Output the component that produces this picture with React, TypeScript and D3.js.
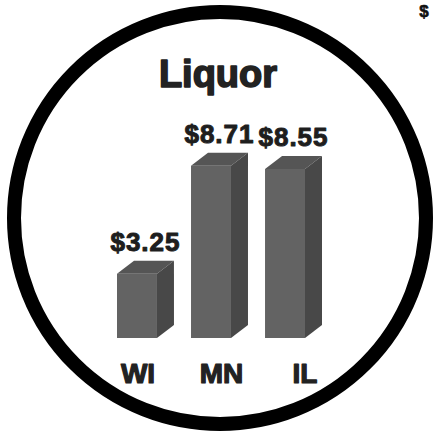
import React from "react";
import * as d3 from "d3";

const categories = ["WI", "MN", "IL"];
const values = [3.25, 8.71, 8.55];
const valueLabels = ["$3.25", "$8.71", "$8.55"];
const title = "Liquor";

export default function App() {
  const W = 434;
  const H = 434;
  const baseY = 338;
  const dx = 17;
  const dy = 13;
  const x = d3.scaleBand<string>().domain(categories).range([117, 305]).paddingInner(0.46).paddingOuter(0);
  const xLabel = d3.scalePoint<string>().domain(categories).range([138, 305]);
  const y = d3.scaleLinear().domain([0, 9]).range([baseY, 160]);
  const font = "'Liberation Sans', Arial, sans-serif";
  return (
    <svg width={W} height={H} style={{ position: "absolute", left: 0, top: 0, background: "#fff" }}>
      <circle cx={220} cy={218} r={206} fill="#fff" stroke="#000" strokeWidth={14} />
      <text x={424} y={17} fontFamily={font} fontWeight={700} fontSize={17} textAnchor="middle" fill="#111" stroke="#111" strokeWidth={0.6}>$</text>
      <text x={218} y={87} fontFamily={font} fontWeight={700} fontSize={38} textAnchor="middle" fill="#222" stroke="#222" strokeWidth={1.6} strokeLinejoin="round">{title}</text>
      {categories.map((c, i) => {
        const x0 = x(c)!;
        const bw = x.bandwidth();
        const yt = y(values[i]);
        const front = `M${x0},${yt}H${x0 + bw}V${baseY}H${x0}Z`;
        const top = `M${x0},${yt}L${x0 + dx},${yt - dy}H${x0 + bw + dx}L${x0 + bw},${yt}Z`;
        const side = `M${x0 + bw},${yt}L${x0 + bw + dx},${yt - dy}V${baseY - dy}L${x0 + bw},${baseY}Z`;
        const cx = x0 + (bw + dx) / 2;
        return (
          <g key={c}>
            <path d={front} fill="#636363" />
            <path d={top} fill="#555555" />
            <path d={side} fill="#484848" />
            <text x={cx} y={yt - dy - 10} fontFamily={font} fontWeight={700} fontSize={26} letterSpacing={1} textAnchor="middle" fill="#1e1e1e" stroke="#1e1e1e" strokeWidth={1} strokeLinejoin="round">{valueLabels[i]}</text>
            <text x={xLabel(c)} y={383} fontFamily={font} fontWeight={700} fontSize={28} textAnchor="middle" fill="#222" stroke="#222" strokeWidth={1.2} strokeLinejoin="round">{c}</text>
          </g>
        );
      })}
    </svg>
  );
}
